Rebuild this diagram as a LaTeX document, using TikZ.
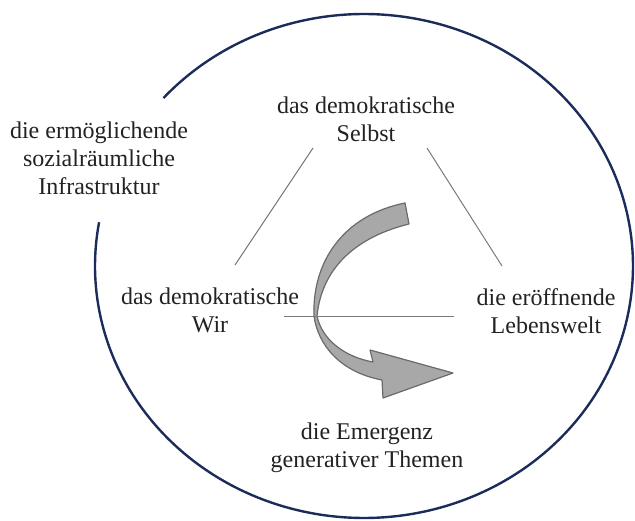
\documentclass[tikz,border=0pt]{standalone}
\usepackage{fontspec}
\setmainfont{Liberation Serif}
\definecolor{navy}{HTML}{1C2C5A}
\definecolor{txt}{HTML}{222222}
\definecolor{tri}{HTML}{7A7A7A}
\definecolor{arrfill}{HTML}{A8A8A8}
\definecolor{arrline}{HTML}{6A6A6A}
\tikzset{
  lbl/.style={align=center, inner sep=0pt, text=txt, font=\fontsize{24}{28}\selectfont},
  triline/.style={draw=tri, line width=1pt},
  ring/.style={draw=navy, line width=2.4pt},
  bigarrow/.style={fill=arrfill, draw=arrline, line width=1.2pt, line join=round}
}
\begin{document}
\begin{tikzpicture}[x=1pt, y=-1pt]
\useasboundingbox (0,0) rectangle (635,521);
% ring
\draw[ring] plot[domain=-138.2:190, samples=240, smooth] ({364+269*cos(\x)},{266+252*sin(\x)});
% labels
\node[lbl] (selbst) at (366,119) {das demokratische\\Selbst};
\node[lbl] (infra) at (99,158) {die ermöglichende\\sozialräumliche\\Infrastruktur};
\node[lbl] (wir) at (210,310) {das demokratische\\Wir};
\node[lbl] (welt) at (546,311) {die eröffnende\\Lebenswelt};
\node[lbl] (emerg) at (367,448) {die Emergenz\\generativer Themen};
% connector end points
\coordinate (sl) at (313,148);
\coordinate (wl) at (235,265);
\coordinate (sr) at (427,148);
\coordinate (lr) at (502,266);
\coordinate (hl) at (284,317);
\coordinate (hr) at (454,317);
% arrow
\path[bigarrow] (405,203) -- (409,224)
  .. controls (360,236) and (322,265) .. (317,316)
  .. controls (322,340) and (345,357) .. (373,362)
  -- (370,350) -- (453,373) -- (383,398) -- (382,380)
  .. controls (340,372) and (318,345) .. (314,316)
  .. controls (312,260) and (345,215) .. (405,203) -- cycle;
% triangle
\draw[triline] (sl) -- (wl);
\draw[triline] (sr) -- (lr);
\draw[triline] (hl) -- (hr);
\end{tikzpicture}
\end{document}
